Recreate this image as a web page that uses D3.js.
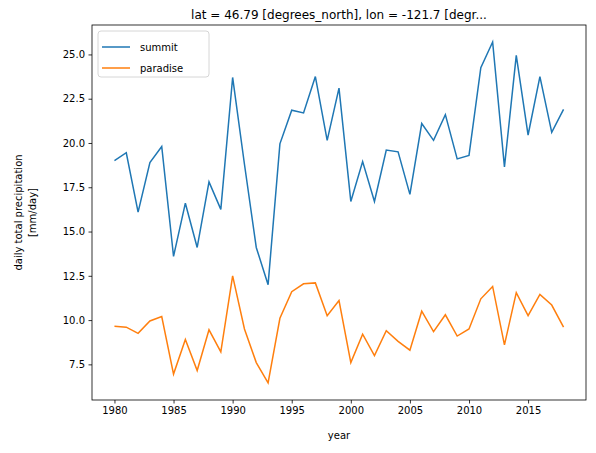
<!DOCTYPE html>
<html>
<head>
<meta charset="utf-8">
<script src="https://cdn.jsdelivr.net/npm/d3@7"></script>
<style>
  body { margin: 0; background: #fff; }
  text { font-family: "DejaVu Sans", sans-serif; fill: #000; }
</style>
</head>
<body>
<div id="chart"></div>
<script>
const years = d3.range(1980, 2019);
const summit = [19.0, 19.45, 16.1, 18.9, 19.8, 13.6, 16.6, 14.1, 17.8, 16.25,
  23.7, 18.8, 14.1, 12.0, 19.95, 21.85, 21.7, 23.75, 20.15, 23.1,
  16.7, 18.95, 16.7, 19.6, 19.5, 17.1, 21.1, 20.15, 21.6, 19.1,
  19.3, 24.25, 25.7, 18.65, 24.95, 20.45, 23.75, 20.6, 21.9];
const paradise = [9.65, 9.6, 9.25, 9.95, 10.2, 6.95, 8.9, 7.15, 9.45, 8.2,
  12.5, 9.5, 7.6, 6.45, 10.1, 11.6, 12.05, 12.1, 10.25, 11.1,
  7.6, 9.2, 8.0, 9.4, 8.8, 8.3, 10.5, 9.35, 10.3, 9.1,
  9.5, 11.2, 11.9, 8.6, 11.55, 10.25, 11.45, 10.85, 9.6];
const xTicks = [1980, 1985, 1990, 1995, 2000, 2005, 2010, 2015];
const yTicks = [7.5, 10.0, 12.5, 15.0, 17.5, 20.0, 22.5, 25.0];
const series = [
  { name: 'summit', values: summit, color: '#1f77b4' },
  { name: 'paradise', values: paradise, color: '#ff7f0e' }
];

const W = 596, H = 453;
const mLeft = 92, mRight = 586, mTop = 25, mBottom = 400;

const svg = d3.select('#chart').append('svg')
  .attr('width', W).attr('height', H);

const x = d3.scaleLinear().domain([1978.1, 2019.9]).range([mLeft, mRight]);
const lo = d3.min(paradise), hi = d3.max(summit), pad = (hi - lo) * 0.05;
const y = d3.scaleLinear().domain([lo - pad, hi + pad]).range([mBottom, mTop]);

const line = d3.line().x((d, i) => x(years[i])).y(d => y(d));

svg.selectAll('path.series')
  .data(series)
  .enter()
  .append('path')
  .attr('class', 'series')
  .attr('d', d => line(d.values))
  .style('fill', 'none')
  .style('stroke', d => d.color)
  .style('stroke-width', 1.5);

const xAxis = svg.append('g')
  .attr('transform', `translate(0,${mBottom})`)
  .call(d3.axisBottom(x).tickValues(xTicks).tickFormat(d3.format('d')).tickSize(3.5).tickPadding(3.5));
const yAxis = svg.append('g')
  .attr('transform', `translate(${mLeft},0)`)
  .call(d3.axisLeft(y).tickValues(yTicks).tickFormat(d3.format('.1f')).tickSize(3.5).tickPadding(3.5));
[xAxis, yAxis].forEach(g => {
  g.select('.domain').remove();
  g.selectAll('text').style('font-size', '10px').style('font-family', 'DejaVu Sans');
  g.selectAll('line').style('stroke', '#000').style('stroke-width', 0.8);
});

svg.append('rect')
  .attr('x', mLeft).attr('y', mTop)
  .attr('width', mRight - mLeft).attr('height', mBottom - mTop)
  .style('fill', 'none').style('stroke', '#000').style('stroke-width', 0.8);

svg.append('text')
  .attr('x', (mLeft + mRight) / 2).attr('y', 19)
  .attr('text-anchor', 'middle').style('font-size', '12px')
  .text('lat = 46.79 [degrees_north], lon = -121.7 [degr...');

svg.append('text')
  .attr('x', (mLeft + mRight) / 2).attr('y', 439)
  .attr('text-anchor', 'middle').style('font-size', '10px')
  .text('year');

const yl = svg.append('text')
  .attr('transform', `translate(22,${(mTop + mBottom) / 2}) rotate(-90)`)
  .attr('text-anchor', 'middle').style('font-size', '10px');
yl.append('tspan').attr('x', 0).attr('dy', 0).text('daily total precipitation');
yl.append('tspan').attr('x', 0).attr('dy', 14).text('[mm/day]');

const legend = svg.append('g').attr('transform', `translate(${mLeft + 6},${mTop + 6})`);
legend.append('rect')
  .attr('width', 111).attr('height', 46).attr('rx', 3)
  .style('fill', '#fff').style('fill-opacity', 0.8)
  .style('stroke', '#ccc').style('stroke-width', 0.8);
const items = legend.selectAll('g.item')
  .data(series)
  .enter()
  .append('g')
  .attr('class', 'item')
  .attr('transform', (d, i) => `translate(0,${12 + i * 21})`);
items.append('line')
  .attr('x1', 4).attr('x2', 32).attr('y1', 4).attr('y2', 4)
  .style('stroke', d => d.color).style('stroke-width', 1.5);
items.append('text')
  .attr('x', 42).attr('y', 8).style('font-size', '10px')
  .text(d => d.name);
</script>
</body>
</html>
